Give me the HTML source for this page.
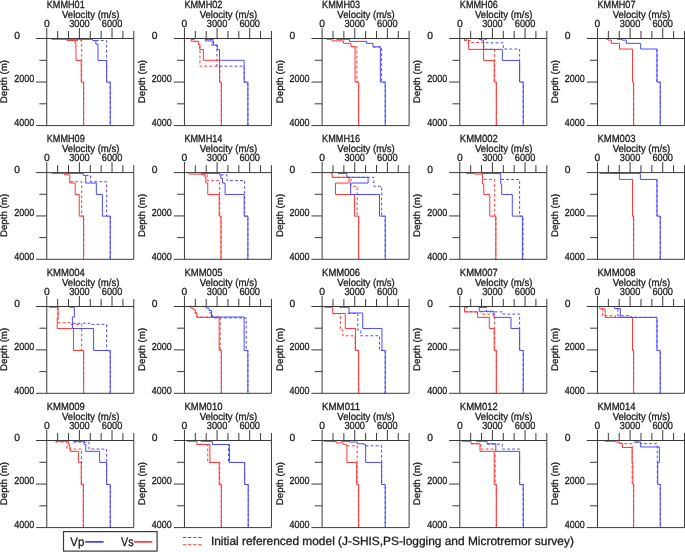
<!DOCTYPE html>
<html><head><meta charset="utf-8"><style>
html,body{margin:0;padding:0;background:#fff;width:685px;height:552px;overflow:hidden}
svg{display:block;will-change:transform}
text{text-rendering:geometricPrecision;font-family:"Liberation Sans",sans-serif;fill:#1a1a1a;stroke:#1a1a1a;stroke-width:0.3px}
</style></head><body>
<svg width="685" height="552" viewBox="0 0 685 552">
<path d="M75.16,40.4 L81.68,40.4 L81.68,82.14 L83.64,82.14 L83.64,125.6" stroke="#ff3535" stroke-width="1.0" fill="none" stroke-dasharray="2.8,2.2"/>
<path d="M95.87,40.57 L106.63,40.57 L106.63,82.14 L110.22,82.14 L110.22,125.6" stroke="#4a4aff" stroke-width="1.0" fill="none" stroke-dasharray="2.8,2.2"/>
<path d="M51.52,39.3 L67.01,39.3 L67.01,40.57 L75.16,40.57 L75.16,43.34 L75.98,43.34 L75.98,60.46 L81.2,60.46 L81.2,82.14 L83.64,82.14 L83.64,125.6" stroke="#ff3535" stroke-width="1.0" fill="none"/>
<path d="M67.01,39.3 L92.61,39.3 L92.61,40.57 L95.87,40.57 L95.87,44.15 L97.99,44.15 L97.99,60.46 L106.63,60.46 L106.63,82.14 L110.22,82.14 L110.22,125.6" stroke="#4a4aff" stroke-width="1.0" fill="none"/>
<path d="M36.07,38.5H133.77M36.07,125.6H133.77M46.77,28V125.6M133.77,31V125.6M57.65,31V38.5M68.52,31V38.5M79.4,28V38.5M90.27,31V38.5M101.15,31V38.5M112.02,28V38.5M122.9,31V38.5M39.37,60.27H46.77M36.07,82.05H46.77M39.37,103.82H46.77" stroke="#3a3a3a" stroke-width="1" fill="none"/>
<text x="46.77" y="7.6" font-size="10.4" textLength="38" lengthAdjust="spacingAndGlyphs">KMMH01</text>
<text x="61.97" y="18.1" font-size="10.3" textLength="57.5" lengthAdjust="spacingAndGlyphs">Velocity (m/s)</text>
<text x="46.77" y="27" font-size="10.3" text-anchor="middle">0</text>
<text x="79.4" y="27" font-size="10.3" text-anchor="middle" textLength="20.5" lengthAdjust="spacingAndGlyphs">3000</text>
<text x="112.02" y="27" font-size="10.3" text-anchor="middle" textLength="20.5" lengthAdjust="spacingAndGlyphs">6000</text>
<text x="14.17" y="38.7" font-size="10.3">0</text>
<text x="14.17" y="82.25" font-size="10.3" textLength="20" lengthAdjust="spacingAndGlyphs">2000</text>
<text x="14.17" y="125.8" font-size="10.3" textLength="20" lengthAdjust="spacingAndGlyphs">4000</text>
<text x="7.27" y="81.55" font-size="9.6" text-anchor="middle" transform="rotate(-90 7.27 81.55)" textLength="43.2" lengthAdjust="spacingAndGlyphs">Depth (m)</text>
<path d="M191.15,39.3 L194.74,39.3 L194.74,41.54 L198.49,41.54 L198.49,44.48 L199.96,44.48 L199.96,66.16 L219.85,66.16 L219.85,82.14 L221.32,82.14 L221.32,125.6" stroke="#ff3535" stroke-width="1.0" fill="none" stroke-dasharray="2.8,2.2"/>
<path d="M205.34,39.3 L213.49,39.3 L213.49,42.52 L211.53,42.52 L211.53,45.13 L216.91,45.13 L216.91,66.16 L244.14,66.16 L244.14,82.14 L247.89,82.14 L247.89,125.6" stroke="#4a4aff" stroke-width="1.0" fill="none" stroke-dasharray="2.8,2.2"/>
<path d="M194.74,39.3 L191.15,39.3 L191.15,41.22 L198.49,41.22 L198.49,44.48 L199.79,44.48 L199.79,49.53 L203.38,49.53 L203.38,60.29 L219.52,60.29 L219.52,82.14 L221.32,82.14 L221.32,125.6" stroke="#ff3535" stroke-width="1.0" fill="none"/>
<path d="M213.82,39.3 L205.34,39.3 L205.34,40.89 L213.49,40.89 L213.49,45.13 L217.24,45.13 L217.24,49.53 L219.52,49.53 L219.52,60.29 L244.14,60.29 L244.14,82.14 L247.89,82.14 L247.89,125.6" stroke="#4a4aff" stroke-width="1.0" fill="none"/>
<path d="M173.75,38.5H271.45M173.75,125.6H271.45M184.45,28V125.6M271.45,31V125.6M195.32,31V38.5M206.2,31V38.5M217.07,28V38.5M227.95,31V38.5M238.82,31V38.5M249.7,28V38.5M260.57,31V38.5M177.05,60.27H184.45M173.75,82.05H184.45M177.05,103.82H184.45" stroke="#3a3a3a" stroke-width="1" fill="none"/>
<text x="184.45" y="7.6" font-size="10.4" textLength="38" lengthAdjust="spacingAndGlyphs">KMMH02</text>
<text x="199.65" y="18.1" font-size="10.3" textLength="57.5" lengthAdjust="spacingAndGlyphs">Velocity (m/s)</text>
<text x="184.45" y="27" font-size="10.3" text-anchor="middle">0</text>
<text x="217.07" y="27" font-size="10.3" text-anchor="middle" textLength="20.5" lengthAdjust="spacingAndGlyphs">3000</text>
<text x="249.7" y="27" font-size="10.3" text-anchor="middle" textLength="20.5" lengthAdjust="spacingAndGlyphs">6000</text>
<text x="151.85" y="38.7" font-size="10.3">0</text>
<text x="151.85" y="82.25" font-size="10.3" textLength="20" lengthAdjust="spacingAndGlyphs">2000</text>
<text x="151.85" y="125.8" font-size="10.3" textLength="20" lengthAdjust="spacingAndGlyphs">4000</text>
<text x="144.95" y="81.55" font-size="9.6" text-anchor="middle" transform="rotate(-90 144.95 81.55)" textLength="43.2" lengthAdjust="spacingAndGlyphs">Depth (m)</text>
<path d="M350.98,46.6 L356.85,46.6 L356.85,82.14 L358.64,82.14 L358.64,125.6" stroke="#ff3535" stroke-width="1.0" fill="none" stroke-dasharray="2.8,2.2"/>
<path d="M372.99,46.92 L381.63,46.92 L381.63,82.14 L385.22,82.14 L385.22,125.6" stroke="#4a4aff" stroke-width="1.0" fill="none" stroke-dasharray="2.8,2.2"/>
<path d="M326.52,39.3 L332.23,39.3 L332.23,40.89 L343.64,40.89 L343.64,43.34 L350.98,43.34 L350.98,46.6 L355.05,46.6 L355.05,82.14 L358.64,82.14 L358.64,125.6" stroke="#ff3535" stroke-width="1.0" fill="none"/>
<path d="M336.3,39.3 L349.35,39.3 L349.35,41.38 L366.47,41.38 L366.47,43.34 L372.99,43.34 L372.99,46.92 L380.33,46.92 L380.33,82.14 L385.22,82.14 L385.22,125.6" stroke="#4a4aff" stroke-width="1.0" fill="none"/>
<path d="M311.42,38.5H409.12M311.42,125.6H409.12M322.12,28V125.6M409.12,31V125.6M333,31V38.5M343.87,31V38.5M354.75,28V38.5M365.62,31V38.5M376.5,31V38.5M387.37,28V38.5M398.25,31V38.5M314.72,60.27H322.12M311.42,82.05H322.12M314.72,103.82H322.12" stroke="#3a3a3a" stroke-width="1" fill="none"/>
<text x="322.12" y="7.6" font-size="10.4" textLength="38" lengthAdjust="spacingAndGlyphs">KMMH03</text>
<text x="337.32" y="18.1" font-size="10.3" textLength="57.5" lengthAdjust="spacingAndGlyphs">Velocity (m/s)</text>
<text x="322.12" y="27" font-size="10.3" text-anchor="middle">0</text>
<text x="354.75" y="27" font-size="10.3" text-anchor="middle" textLength="20.5" lengthAdjust="spacingAndGlyphs">3000</text>
<text x="387.37" y="27" font-size="10.3" text-anchor="middle" textLength="20.5" lengthAdjust="spacingAndGlyphs">6000</text>
<text x="289.52" y="38.7" font-size="10.3">0</text>
<text x="289.52" y="82.25" font-size="10.3" textLength="20" lengthAdjust="spacingAndGlyphs">2000</text>
<text x="289.52" y="125.8" font-size="10.3" textLength="20" lengthAdjust="spacingAndGlyphs">4000</text>
<text x="282.62" y="81.55" font-size="9.6" text-anchor="middle" transform="rotate(-90 282.62 81.55)" textLength="43.2" lengthAdjust="spacingAndGlyphs">Depth (m)</text>
<path d="M464.52,39.3 L464.52,40.57 L470.23,40.57 L470.23,42.52 L483.6,42.52 L483.6,49.37 L494.68,49.37 L494.68,82.14 L496.32,82.14 L496.32,125.6" stroke="#ff3535" stroke-width="1.0" fill="none" stroke-dasharray="2.8,2.2"/>
<path d="M479.2,39.3 L486.53,39.3 L486.53,42.85 L503.33,42.85 L503.33,49.04 L519.63,49.04 L519.63,82.14 L523.22,82.14 L523.22,125.6" stroke="#4a4aff" stroke-width="1.0" fill="none" stroke-dasharray="2.8,2.2"/>
<path d="M464.52,39.3 L464.52,40.08 L468.6,40.08 L468.6,49.37 L483.6,49.37 L483.6,60.46 L494.2,60.46 L494.2,82.14 L496.32,82.14 L496.32,125.6" stroke="#ff3535" stroke-width="1.0" fill="none"/>
<path d="M479.2,39.3 L480.83,39.3 L480.83,40.08 L483.6,40.08 L483.6,49.37 L502.35,49.37 L502.35,60.46 L519.63,60.46 L519.63,82.14 L523.22,82.14 L523.22,125.6" stroke="#4a4aff" stroke-width="1.0" fill="none"/>
<path d="M449.1,38.5H546.8M449.1,125.6H546.8M459.8,28V125.6M546.8,31V125.6M470.67,31V38.5M481.55,31V38.5M492.42,28V38.5M503.3,31V38.5M514.17,31V38.5M525.05,28V38.5M535.92,31V38.5M452.4,60.27H459.8M449.1,82.05H459.8M452.4,103.82H459.8" stroke="#3a3a3a" stroke-width="1" fill="none"/>
<text x="459.8" y="7.6" font-size="10.4" textLength="38" lengthAdjust="spacingAndGlyphs">KMMH06</text>
<text x="475" y="18.1" font-size="10.3" textLength="57.5" lengthAdjust="spacingAndGlyphs">Velocity (m/s)</text>
<text x="459.8" y="27" font-size="10.3" text-anchor="middle">0</text>
<text x="492.42" y="27" font-size="10.3" text-anchor="middle" textLength="20.5" lengthAdjust="spacingAndGlyphs">3000</text>
<text x="525.05" y="27" font-size="10.3" text-anchor="middle" textLength="20.5" lengthAdjust="spacingAndGlyphs">6000</text>
<text x="427.19" y="38.7" font-size="10.3">0</text>
<text x="427.19" y="82.25" font-size="10.3" textLength="20" lengthAdjust="spacingAndGlyphs">2000</text>
<text x="427.19" y="125.8" font-size="10.3" textLength="20" lengthAdjust="spacingAndGlyphs">4000</text>
<text x="420.3" y="81.55" font-size="9.6" text-anchor="middle" transform="rotate(-90 420.3 81.55)" textLength="43.2" lengthAdjust="spacingAndGlyphs">Depth (m)</text>
<path d="M632.5,49.04 L632.5,82.14 L633.64,82.14 L633.64,125.6" stroke="#ff3535" stroke-width="1.0" fill="none" stroke-dasharray="2.8,2.2"/>
<path d="M656.96,49.04 L656.96,82.14 L660.22,82.14 L660.22,125.6" stroke="#4a4aff" stroke-width="1.0" fill="none" stroke-dasharray="2.8,2.2"/>
<path d="M606.41,39.3 L608.04,39.3 L608.04,40.08 L611.3,40.08 L611.3,43.34 L619.46,43.34 L619.46,49.04 L632.5,49.04 L632.5,82.14 L633.64,82.14 L633.64,125.6" stroke="#ff3535" stroke-width="1.0" fill="none"/>
<path d="M617.01,39.3 L621.9,39.3 L621.9,40.08 L626.3,40.08 L626.3,43.34 L640.65,43.34 L640.65,49.04 L656.96,49.04 L656.96,82.14 L660.22,82.14 L660.22,125.6" stroke="#4a4aff" stroke-width="1.0" fill="none"/>
<path d="M586.77,38.5H684.47M586.77,125.6H684.47M597.47,28V125.6M684.47,31V125.6M608.35,31V38.5M619.22,31V38.5M630.1,28V38.5M640.97,31V38.5M651.85,31V38.5M662.72,28V38.5M673.6,31V38.5M590.07,60.27H597.47M586.77,82.05H597.47M590.07,103.82H597.47" stroke="#3a3a3a" stroke-width="1" fill="none"/>
<text x="597.47" y="7.6" font-size="10.4" textLength="38" lengthAdjust="spacingAndGlyphs">KMMH07</text>
<text x="612.67" y="18.1" font-size="10.3" textLength="57.5" lengthAdjust="spacingAndGlyphs">Velocity (m/s)</text>
<text x="597.47" y="27" font-size="10.3" text-anchor="middle">0</text>
<text x="630.1" y="27" font-size="10.3" text-anchor="middle" textLength="20.5" lengthAdjust="spacingAndGlyphs">3000</text>
<text x="662.72" y="27" font-size="10.3" text-anchor="middle" textLength="20.5" lengthAdjust="spacingAndGlyphs">6000</text>
<text x="564.87" y="38.7" font-size="10.3">0</text>
<text x="564.87" y="82.25" font-size="10.3" textLength="20" lengthAdjust="spacingAndGlyphs">2000</text>
<text x="564.87" y="125.8" font-size="10.3" textLength="20" lengthAdjust="spacingAndGlyphs">4000</text>
<text x="557.97" y="81.55" font-size="9.6" text-anchor="middle" transform="rotate(-90 557.97 81.55)" textLength="43.2" lengthAdjust="spacingAndGlyphs">Depth (m)</text>
<path d="M70.27,181.74 L81.68,181.74 L81.68,216.14 L83.64,216.14 L83.64,259.3" stroke="#ff3535" stroke-width="1.0" fill="none" stroke-dasharray="2.8,2.2"/>
<path d="M85.76,175.38 L90.65,175.38 L90.65,181.74 L106.63,181.74 L106.63,216.14 L110.22,216.14 L110.22,259.3" stroke="#4a4aff" stroke-width="1.0" fill="none" stroke-dasharray="2.8,2.2"/>
<path d="M51.52,173.4 L64.57,173.4 L64.57,174.89 L69.78,174.89 L69.78,183.04 L75.16,183.04 L75.16,194.46 L79.24,194.46 L79.24,216.14 L83.64,216.14 L83.64,259.3" stroke="#ff3535" stroke-width="1.0" fill="none"/>
<path d="M64.57,173.4 L83.32,173.4 L83.32,175.38 L85.76,175.38 L85.76,183.04 L96.36,183.04 L96.36,194.46 L102.39,194.46 L102.39,216.14 L110.22,216.14 L110.22,259.3" stroke="#4a4aff" stroke-width="1.0" fill="none"/>
<path d="M36.07,172.6H133.77M36.07,259.3H133.77M46.77,162.1V259.3M133.77,165.1V259.3M57.65,165.1V172.6M68.52,165.1V172.6M79.4,162.1V172.6M90.27,165.1V172.6M101.15,165.1V172.6M112.02,162.1V172.6M122.9,165.1V172.6M39.37,194.28H46.77M36.07,215.95H46.77M39.37,237.62H46.77" stroke="#3a3a3a" stroke-width="1" fill="none"/>
<text x="46.77" y="141.7" font-size="10.4" textLength="38" lengthAdjust="spacingAndGlyphs">KMMH09</text>
<text x="61.97" y="152.2" font-size="10.3" textLength="57.5" lengthAdjust="spacingAndGlyphs">Velocity (m/s)</text>
<text x="46.77" y="161.1" font-size="10.3" text-anchor="middle">0</text>
<text x="79.4" y="161.1" font-size="10.3" text-anchor="middle" textLength="20.5" lengthAdjust="spacingAndGlyphs">3000</text>
<text x="112.02" y="161.1" font-size="10.3" text-anchor="middle" textLength="20.5" lengthAdjust="spacingAndGlyphs">6000</text>
<text x="14.17" y="172.8" font-size="10.3">0</text>
<text x="14.17" y="216.15" font-size="10.3" textLength="20" lengthAdjust="spacingAndGlyphs">2000</text>
<text x="14.17" y="259.5" font-size="10.3" textLength="20" lengthAdjust="spacingAndGlyphs">4000</text>
<text x="7.27" y="215.45" font-size="9.6" text-anchor="middle" transform="rotate(-90 7.27 215.45)" textLength="43.2" lengthAdjust="spacingAndGlyphs">Depth (m)</text>
<path d="M202.57,174.08 L207.13,174.08 L207.13,180.6 L219.68,180.6 L219.68,216.14 L220.99,216.14 L220.99,259.3" stroke="#ff3535" stroke-width="1.0" fill="none" stroke-dasharray="2.8,2.2"/>
<path d="M220.83,174.89 L227.02,174.89 L227.02,180.6 L244.63,180.6 L244.63,216.14 L247.89,216.14 L247.89,259.3" stroke="#4a4aff" stroke-width="1.0" fill="none" stroke-dasharray="2.8,2.2"/>
<path d="M188.71,173.4 L188.71,174.08 L201.75,174.08 L201.75,174.89 L205.01,174.89 L205.01,177.34 L205.83,177.34 L205.83,183.04 L207.78,183.04 L207.78,194.46 L219.2,194.46 L219.2,216.14 L220.99,216.14 L220.99,259.3" stroke="#ff3535" stroke-width="1.0" fill="none"/>
<path d="M200.93,173.4 L219.68,173.4 L219.68,174.89 L220.83,174.89 L220.83,178.15 L222.46,178.15 L222.46,183.04 L225.07,183.04 L225.07,194.46 L244.14,194.46 L244.14,216.14 L247.89,216.14 L247.89,259.3" stroke="#4a4aff" stroke-width="1.0" fill="none"/>
<path d="M173.75,172.6H271.45M173.75,259.3H271.45M184.45,162.1V259.3M271.45,165.1V259.3M195.32,165.1V172.6M206.2,165.1V172.6M217.07,162.1V172.6M227.95,165.1V172.6M238.82,165.1V172.6M249.7,162.1V172.6M260.57,165.1V172.6M177.05,194.28H184.45M173.75,215.95H184.45M177.05,237.62H184.45" stroke="#3a3a3a" stroke-width="1" fill="none"/>
<text x="184.45" y="141.7" font-size="10.4" textLength="38" lengthAdjust="spacingAndGlyphs">KMMH14</text>
<text x="199.65" y="152.2" font-size="10.3" textLength="57.5" lengthAdjust="spacingAndGlyphs">Velocity (m/s)</text>
<text x="184.45" y="161.1" font-size="10.3" text-anchor="middle">0</text>
<text x="217.07" y="161.1" font-size="10.3" text-anchor="middle" textLength="20.5" lengthAdjust="spacingAndGlyphs">3000</text>
<text x="249.7" y="161.1" font-size="10.3" text-anchor="middle" textLength="20.5" lengthAdjust="spacingAndGlyphs">6000</text>
<text x="151.85" y="172.8" font-size="10.3">0</text>
<text x="151.85" y="216.15" font-size="10.3" textLength="20" lengthAdjust="spacingAndGlyphs">2000</text>
<text x="151.85" y="259.5" font-size="10.3" textLength="20" lengthAdjust="spacingAndGlyphs">4000</text>
<text x="144.95" y="215.45" font-size="9.6" text-anchor="middle" transform="rotate(-90 144.95 215.45)" textLength="43.2" lengthAdjust="spacingAndGlyphs">Depth (m)</text>
<path d="M332.23,177.34 L350.98,177.34 L350.98,186.3 L357.17,186.3 L357.17,216.14 L358.64,216.14 L358.64,259.3" stroke="#ff3535" stroke-width="1.0" fill="none" stroke-dasharray="2.8,2.2"/>
<path d="M346.9,177.34 L373.8,177.34 L373.8,186.3 L381.63,186.3 L381.63,216.14 L385.22,216.14 L385.22,259.3" stroke="#4a4aff" stroke-width="1.0" fill="none" stroke-dasharray="2.8,2.2"/>
<path d="M330.6,173.4 L332.23,173.4 L332.23,177.34 L349.02,177.34 L349.02,183.04 L335.49,183.04 L335.49,194.46 L354.57,194.46 L354.57,216.14 L358.64,216.14 L358.64,259.3" stroke="#ff3535" stroke-width="1.0" fill="none"/>
<path d="M337.93,173.4 L346.9,173.4 L346.9,177.34 L368.1,177.34 L368.1,183.04 L350.65,183.04 L350.65,194.46 L379.51,194.46 L379.51,216.14 L385.22,216.14 L385.22,259.3" stroke="#4a4aff" stroke-width="1.0" fill="none"/>
<path d="M311.42,172.6H409.12M311.42,259.3H409.12M322.12,162.1V259.3M409.12,165.1V259.3M333,165.1V172.6M343.87,165.1V172.6M354.75,162.1V172.6M365.62,165.1V172.6M376.5,165.1V172.6M387.37,162.1V172.6M398.25,165.1V172.6M314.72,194.28H322.12M311.42,215.95H322.12M314.72,237.62H322.12" stroke="#3a3a3a" stroke-width="1" fill="none"/>
<text x="322.12" y="141.7" font-size="10.4" textLength="38" lengthAdjust="spacingAndGlyphs">KMMH16</text>
<text x="337.32" y="152.2" font-size="10.3" textLength="57.5" lengthAdjust="spacingAndGlyphs">Velocity (m/s)</text>
<text x="322.12" y="161.1" font-size="10.3" text-anchor="middle">0</text>
<text x="354.75" y="161.1" font-size="10.3" text-anchor="middle" textLength="20.5" lengthAdjust="spacingAndGlyphs">3000</text>
<text x="387.37" y="161.1" font-size="10.3" text-anchor="middle" textLength="20.5" lengthAdjust="spacingAndGlyphs">6000</text>
<text x="289.52" y="172.8" font-size="10.3">0</text>
<text x="289.52" y="216.15" font-size="10.3" textLength="20" lengthAdjust="spacingAndGlyphs">2000</text>
<text x="289.52" y="259.5" font-size="10.3" textLength="20" lengthAdjust="spacingAndGlyphs">4000</text>
<text x="282.62" y="215.45" font-size="9.6" text-anchor="middle" transform="rotate(-90 282.62 215.45)" textLength="43.2" lengthAdjust="spacingAndGlyphs">Depth (m)</text>
<path d="M484.09,179.46 L494.68,179.46 L494.68,216.14 L495.83,216.14 L495.83,259.3" stroke="#ff3535" stroke-width="1.0" fill="none" stroke-dasharray="2.8,2.2"/>
<path d="M501.21,179.46 L519.63,179.46 L519.63,216.14 L523.05,216.14 L523.05,259.3" stroke="#4a4aff" stroke-width="1.0" fill="none" stroke-dasharray="2.8,2.2"/>
<path d="M466.15,173.4 L474.3,173.4 L474.3,174.08 L482.46,174.08 L482.46,183.86 L483.76,183.86 L483.76,194.46 L489.79,194.46 L489.79,216.14 L495.83,216.14 L495.83,259.3" stroke="#ff3535" stroke-width="1.0" fill="none"/>
<path d="M481.64,173.4 L500.39,173.4 L500.39,174.89 L500.72,174.89 L500.72,183.86 L501.7,183.86 L501.7,194.46 L512.29,194.46 L512.29,216.14 L522.4,216.14 L522.4,259.3" stroke="#4a4aff" stroke-width="1.0" fill="none"/>
<path d="M449.1,172.6H546.8M449.1,259.3H546.8M459.8,162.1V259.3M546.8,165.1V259.3M470.67,165.1V172.6M481.55,165.1V172.6M492.42,162.1V172.6M503.3,165.1V172.6M514.17,165.1V172.6M525.05,162.1V172.6M535.92,165.1V172.6M452.4,194.28H459.8M449.1,215.95H459.8M452.4,237.62H459.8" stroke="#3a3a3a" stroke-width="1" fill="none"/>
<text x="459.8" y="141.7" font-size="10.4" textLength="38" lengthAdjust="spacingAndGlyphs">KMM002</text>
<text x="475" y="152.2" font-size="10.3" textLength="57.5" lengthAdjust="spacingAndGlyphs">Velocity (m/s)</text>
<text x="459.8" y="161.1" font-size="10.3" text-anchor="middle">0</text>
<text x="492.42" y="161.1" font-size="10.3" text-anchor="middle" textLength="20.5" lengthAdjust="spacingAndGlyphs">3000</text>
<text x="525.05" y="161.1" font-size="10.3" text-anchor="middle" textLength="20.5" lengthAdjust="spacingAndGlyphs">6000</text>
<text x="427.19" y="172.8" font-size="10.3">0</text>
<text x="427.19" y="216.15" font-size="10.3" textLength="20" lengthAdjust="spacingAndGlyphs">2000</text>
<text x="427.19" y="259.5" font-size="10.3" textLength="20" lengthAdjust="spacingAndGlyphs">4000</text>
<text x="420.3" y="215.45" font-size="9.6" text-anchor="middle" transform="rotate(-90 420.3 215.45)" textLength="43.2" lengthAdjust="spacingAndGlyphs">Depth (m)</text>
<path d="M632.5,179.46 L632.5,216.14 L633.64,216.14 L633.64,259.3" stroke="#ff3535" stroke-width="1.0" fill="none" stroke-dasharray="2.8,2.2"/>
<path d="M656.96,179.46 L656.96,216.14 L660.22,216.14 L660.22,259.3" stroke="#4a4aff" stroke-width="1.0" fill="none" stroke-dasharray="2.8,2.2"/>
<path d="M599.89,173.4 L619.46,173.4 L619.46,179.46 L632.5,179.46 L632.5,216.14 L633.64,216.14 L633.64,259.3" stroke="#ff3535" stroke-width="1.0" fill="none"/>
<path d="M611.3,173.4 L640.33,173.4 L640.33,179.46 L656.96,179.46 L656.96,216.14 L660.22,216.14 L660.22,259.3" stroke="#4a4aff" stroke-width="1.0" fill="none"/>
<path d="M586.77,172.6H684.47M586.77,259.3H684.47M597.47,162.1V259.3M684.47,165.1V259.3M608.35,165.1V172.6M619.22,165.1V172.6M630.1,162.1V172.6M640.97,165.1V172.6M651.85,165.1V172.6M662.72,162.1V172.6M673.6,165.1V172.6M590.07,194.28H597.47M586.77,215.95H597.47M590.07,237.62H597.47" stroke="#3a3a3a" stroke-width="1" fill="none"/>
<text x="597.47" y="141.7" font-size="10.4" textLength="38" lengthAdjust="spacingAndGlyphs">KMM003</text>
<text x="612.67" y="152.2" font-size="10.3" textLength="57.5" lengthAdjust="spacingAndGlyphs">Velocity (m/s)</text>
<text x="597.47" y="161.1" font-size="10.3" text-anchor="middle">0</text>
<text x="630.1" y="161.1" font-size="10.3" text-anchor="middle" textLength="20.5" lengthAdjust="spacingAndGlyphs">3000</text>
<text x="662.72" y="161.1" font-size="10.3" text-anchor="middle" textLength="20.5" lengthAdjust="spacingAndGlyphs">6000</text>
<text x="564.87" y="172.8" font-size="10.3">0</text>
<text x="564.87" y="216.15" font-size="10.3" textLength="20" lengthAdjust="spacingAndGlyphs">2000</text>
<text x="564.87" y="259.5" font-size="10.3" textLength="20" lengthAdjust="spacingAndGlyphs">4000</text>
<text x="557.97" y="215.45" font-size="9.6" text-anchor="middle" transform="rotate(-90 557.97 215.45)" textLength="43.2" lengthAdjust="spacingAndGlyphs">Depth (m)</text>
<path d="M58.04,307.3 L58.04,322.75 L70.27,322.75 L70.27,324.38 L81.68,324.38 L81.68,350.47 L83.64,350.47 L83.64,393.3" stroke="#ff3535" stroke-width="1.0" fill="none" stroke-dasharray="2.8,2.2"/>
<path d="M72.72,323.24 L90.65,323.24 L90.65,324.38 L106.63,324.38 L106.63,350.47 L110.22,350.47 L110.22,393.3" stroke="#4a4aff" stroke-width="1.0" fill="none" stroke-dasharray="2.8,2.2"/>
<path d="M49.08,307.3 L58.04,307.3 L58.04,317.86 L57.23,317.86 L57.23,328.46 L73.53,328.46 L73.53,350.47 L83.64,350.47 L83.64,393.3" stroke="#ff3535" stroke-width="1.0" fill="none"/>
<path d="M69.46,307.3 L74.35,307.3 L74.35,317.04 L72.39,317.04 L72.39,328.46 L93.59,328.46 L93.59,350.47 L110.22,350.47 L110.22,393.3" stroke="#4a4aff" stroke-width="1.0" fill="none"/>
<path d="M36.07,306.5H133.77M36.07,393.3H133.77M46.77,296V393.3M133.77,299V393.3M57.65,299V306.5M68.52,299V306.5M79.4,296V306.5M90.27,299V306.5M101.15,299V306.5M112.02,296V306.5M122.9,299V306.5M39.37,328.2H46.77M36.07,349.9H46.77M39.37,371.6H46.77" stroke="#3a3a3a" stroke-width="1" fill="none"/>
<text x="46.77" y="275.6" font-size="10.4" textLength="38" lengthAdjust="spacingAndGlyphs">KMM004</text>
<text x="61.97" y="286.1" font-size="10.3" textLength="57.5" lengthAdjust="spacingAndGlyphs">Velocity (m/s)</text>
<text x="46.77" y="295" font-size="10.3" text-anchor="middle">0</text>
<text x="79.4" y="295" font-size="10.3" text-anchor="middle" textLength="20.5" lengthAdjust="spacingAndGlyphs">3000</text>
<text x="112.02" y="295" font-size="10.3" text-anchor="middle" textLength="20.5" lengthAdjust="spacingAndGlyphs">6000</text>
<text x="14.17" y="306.7" font-size="10.3">0</text>
<text x="14.17" y="350.1" font-size="10.3" textLength="20" lengthAdjust="spacingAndGlyphs">2000</text>
<text x="14.17" y="393.5" font-size="10.3" textLength="20" lengthAdjust="spacingAndGlyphs">4000</text>
<text x="7.27" y="349.4" font-size="9.6" text-anchor="middle" transform="rotate(-90 7.27 349.4)" textLength="43.2" lengthAdjust="spacingAndGlyphs">Depth (m)</text>
<path d="M194.41,312.97 L196.86,312.97 L196.86,317.04 L220.17,317.04 L220.17,350.47 L221.32,350.47 L221.32,393.3" stroke="#ff3535" stroke-width="1.0" fill="none" stroke-dasharray="2.8,2.2"/>
<path d="M209.09,312.97 L212.35,312.97 L212.35,317.86 L246.26,317.86 L246.26,350.47 L247.89,350.47 L247.89,393.3" stroke="#4a4aff" stroke-width="1.0" fill="none" stroke-dasharray="2.8,2.2"/>
<path d="M190.34,307.3 L190.34,308.08 L193.6,308.08 L193.6,309.71 L195.23,309.71 L195.23,312.97 L196.86,312.97 L196.86,317.37 L219.2,317.37 L219.2,350.47 L221.32,350.47 L221.32,393.3" stroke="#ff3535" stroke-width="1.0" fill="none"/>
<path d="M205.83,307.3 L205.83,308.08 L209.09,308.08 L209.09,310.52 L211.53,310.52 L211.53,317.04 L244.14,317.04 L244.14,350.47 L247.89,350.47 L247.89,393.3" stroke="#4a4aff" stroke-width="1.0" fill="none"/>
<path d="M173.75,306.5H271.45M173.75,393.3H271.45M184.45,296V393.3M271.45,299V393.3M195.32,299V306.5M206.2,299V306.5M217.07,296V306.5M227.95,299V306.5M238.82,299V306.5M249.7,296V306.5M260.57,299V306.5M177.05,328.2H184.45M173.75,349.9H184.45M177.05,371.6H184.45" stroke="#3a3a3a" stroke-width="1" fill="none"/>
<text x="184.45" y="275.6" font-size="10.4" textLength="38" lengthAdjust="spacingAndGlyphs">KMM005</text>
<text x="199.65" y="286.1" font-size="10.3" textLength="57.5" lengthAdjust="spacingAndGlyphs">Velocity (m/s)</text>
<text x="184.45" y="295" font-size="10.3" text-anchor="middle">0</text>
<text x="217.07" y="295" font-size="10.3" text-anchor="middle" textLength="20.5" lengthAdjust="spacingAndGlyphs">3000</text>
<text x="249.7" y="295" font-size="10.3" text-anchor="middle" textLength="20.5" lengthAdjust="spacingAndGlyphs">6000</text>
<text x="151.85" y="306.7" font-size="10.3">0</text>
<text x="151.85" y="350.1" font-size="10.3" textLength="20" lengthAdjust="spacingAndGlyphs">2000</text>
<text x="151.85" y="393.5" font-size="10.3" textLength="20" lengthAdjust="spacingAndGlyphs">4000</text>
<text x="144.95" y="349.4" font-size="9.6" text-anchor="middle" transform="rotate(-90 144.95 349.4)" textLength="43.2" lengthAdjust="spacingAndGlyphs">Depth (m)</text>
<path d="M332.72,313.78 L340.38,313.78 L340.38,330.09 L342.83,330.09 L342.83,335.79 L355.05,335.79 L355.05,350.47 L358.64,350.47 L358.64,393.3" stroke="#ff3535" stroke-width="1.0" fill="none" stroke-dasharray="2.8,2.2"/>
<path d="M347.72,313.46 L357.83,313.46 L357.83,330.09 L360.76,330.09 L360.76,335.79 L379.51,335.79 L379.51,350.47 L385.22,350.47 L385.22,393.3" stroke="#4a4aff" stroke-width="1.0" fill="none" stroke-dasharray="2.8,2.2"/>
<path d="M324.89,307.3 L332.72,307.3 L332.72,313.46 L345.27,313.46 L345.27,328.46 L355.54,328.46 L355.54,350.47 L358.64,350.47 L358.64,393.3" stroke="#ff3535" stroke-width="1.0" fill="none"/>
<path d="M339.57,307.3 L349.02,307.3 L349.02,312.97 L362.72,312.97 L362.72,328.46 L381.96,328.46 L381.96,350.47 L385.22,350.47 L385.22,393.3" stroke="#4a4aff" stroke-width="1.0" fill="none"/>
<path d="M311.42,306.5H409.12M311.42,393.3H409.12M322.12,296V393.3M409.12,299V393.3M333,299V306.5M343.87,299V306.5M354.75,296V306.5M365.62,299V306.5M376.5,299V306.5M387.37,296V306.5M398.25,299V306.5M314.72,328.2H322.12M311.42,349.9H322.12M314.72,371.6H322.12" stroke="#3a3a3a" stroke-width="1" fill="none"/>
<text x="322.12" y="275.6" font-size="10.4" textLength="38" lengthAdjust="spacingAndGlyphs">KMM006</text>
<text x="337.32" y="286.1" font-size="10.3" textLength="57.5" lengthAdjust="spacingAndGlyphs">Velocity (m/s)</text>
<text x="322.12" y="295" font-size="10.3" text-anchor="middle">0</text>
<text x="354.75" y="295" font-size="10.3" text-anchor="middle" textLength="20.5" lengthAdjust="spacingAndGlyphs">3000</text>
<text x="387.37" y="295" font-size="10.3" text-anchor="middle" textLength="20.5" lengthAdjust="spacingAndGlyphs">6000</text>
<text x="289.52" y="306.7" font-size="10.3">0</text>
<text x="289.52" y="350.1" font-size="10.3" textLength="20" lengthAdjust="spacingAndGlyphs">2000</text>
<text x="289.52" y="393.5" font-size="10.3" textLength="20" lengthAdjust="spacingAndGlyphs">4000</text>
<text x="282.62" y="349.4" font-size="9.6" text-anchor="middle" transform="rotate(-90 282.62 349.4)" textLength="43.2" lengthAdjust="spacingAndGlyphs">Depth (m)</text>
<path d="M464.52,311.83 L482.46,311.83 L482.46,314.11 L494.68,314.11 L494.68,350.47 L496.32,350.47 L496.32,393.3" stroke="#ff3535" stroke-width="1.0" fill="none" stroke-dasharray="2.8,2.2"/>
<path d="M479.2,307.3 L486.53,307.3 L486.53,311.83 L502.84,311.83 L502.84,314.11 L519.63,314.11 L519.63,350.47 L523.22,350.47 L523.22,393.3" stroke="#4a4aff" stroke-width="1.0" fill="none" stroke-dasharray="2.8,2.2"/>
<path d="M467.78,307.59 L464.52,307.59 L464.52,311.83 L477.57,311.83 L477.57,317.37 L489.3,317.37 L489.3,328.46 L494.2,328.46 L494.2,350.47 L496.32,350.47 L496.32,393.3" stroke="#ff3535" stroke-width="1.0" fill="none"/>
<path d="M486.53,307.3 L479.2,307.3 L479.2,311.34 L493.87,311.34 L493.87,317.37 L510.99,317.37 L510.99,328.46 L519.63,328.46 L519.63,350.47 L523.22,350.47 L523.22,393.3" stroke="#4a4aff" stroke-width="1.0" fill="none"/>
<path d="M449.1,306.5H546.8M449.1,393.3H546.8M459.8,296V393.3M546.8,299V393.3M470.67,299V306.5M481.55,299V306.5M492.42,296V306.5M503.3,299V306.5M514.17,299V306.5M525.05,296V306.5M535.92,299V306.5M452.4,328.2H459.8M449.1,349.9H459.8M452.4,371.6H459.8" stroke="#3a3a3a" stroke-width="1" fill="none"/>
<text x="459.8" y="275.6" font-size="10.4" textLength="38" lengthAdjust="spacingAndGlyphs">KMM007</text>
<text x="475" y="286.1" font-size="10.3" textLength="57.5" lengthAdjust="spacingAndGlyphs">Velocity (m/s)</text>
<text x="459.8" y="295" font-size="10.3" text-anchor="middle">0</text>
<text x="492.42" y="295" font-size="10.3" text-anchor="middle" textLength="20.5" lengthAdjust="spacingAndGlyphs">3000</text>
<text x="525.05" y="295" font-size="10.3" text-anchor="middle" textLength="20.5" lengthAdjust="spacingAndGlyphs">6000</text>
<text x="427.19" y="306.7" font-size="10.3">0</text>
<text x="427.19" y="350.1" font-size="10.3" textLength="20" lengthAdjust="spacingAndGlyphs">2000</text>
<text x="427.19" y="393.5" font-size="10.3" textLength="20" lengthAdjust="spacingAndGlyphs">4000</text>
<text x="420.3" y="349.4" font-size="9.6" text-anchor="middle" transform="rotate(-90 420.3 349.4)" textLength="43.2" lengthAdjust="spacingAndGlyphs">Depth (m)</text>
<path d="M602.34,308.08 L602.34,315.74 L615.38,315.74 L615.38,317.37 L632.5,317.37 L632.5,350.47 L633.64,350.47 L633.64,393.3" stroke="#ff3535" stroke-width="1.0" fill="none" stroke-dasharray="2.8,2.2"/>
<path d="M617.83,308.89 L617.83,315.74 L630.87,315.74 L630.87,317.37 L656.96,317.37 L656.96,350.47 L660.22,350.47 L660.22,393.3" stroke="#4a4aff" stroke-width="1.0" fill="none" stroke-dasharray="2.8,2.2"/>
<path d="M599.89,307.3 L599.89,308.89 L605.11,308.89 L605.11,317.37 L632.5,317.37 L632.5,350.47 L633.64,350.47 L633.64,393.3" stroke="#ff3535" stroke-width="1.0" fill="none"/>
<path d="M614.57,307.3 L614.57,308.57 L620.27,308.57 L620.27,317.37 L656.96,317.37 L656.96,350.47 L660.22,350.47 L660.22,393.3" stroke="#4a4aff" stroke-width="1.0" fill="none"/>
<path d="M586.77,306.5H684.47M586.77,393.3H684.47M597.47,296V393.3M684.47,299V393.3M608.35,299V306.5M619.22,299V306.5M630.1,296V306.5M640.97,299V306.5M651.85,299V306.5M662.72,296V306.5M673.6,299V306.5M590.07,328.2H597.47M586.77,349.9H597.47M590.07,371.6H597.47" stroke="#3a3a3a" stroke-width="1" fill="none"/>
<text x="597.47" y="275.6" font-size="10.4" textLength="38" lengthAdjust="spacingAndGlyphs">KMM008</text>
<text x="612.67" y="286.1" font-size="10.3" textLength="57.5" lengthAdjust="spacingAndGlyphs">Velocity (m/s)</text>
<text x="597.47" y="295" font-size="10.3" text-anchor="middle">0</text>
<text x="630.1" y="295" font-size="10.3" text-anchor="middle" textLength="20.5" lengthAdjust="spacingAndGlyphs">3000</text>
<text x="662.72" y="295" font-size="10.3" text-anchor="middle" textLength="20.5" lengthAdjust="spacingAndGlyphs">6000</text>
<text x="564.87" y="306.7" font-size="10.3">0</text>
<text x="564.87" y="350.1" font-size="10.3" textLength="20" lengthAdjust="spacingAndGlyphs">2000</text>
<text x="564.87" y="393.5" font-size="10.3" textLength="20" lengthAdjust="spacingAndGlyphs">4000</text>
<text x="557.97" y="349.4" font-size="9.6" text-anchor="middle" transform="rotate(-90 557.97 349.4)" textLength="43.2" lengthAdjust="spacingAndGlyphs">Depth (m)</text>
<path d="M55.6,442.08 L67.01,442.08 L67.01,449.09 L81.52,449.09 L81.52,484.47 L83.32,484.47 L83.32,527.6" stroke="#ff3535" stroke-width="1.0" fill="none" stroke-dasharray="2.8,2.2"/>
<path d="M73.53,442.08 L89.02,442.08 L89.02,449.09 L106.63,449.09 L106.63,484.47 L110.22,484.47 L110.22,527.6" stroke="#4a4aff" stroke-width="1.0" fill="none" stroke-dasharray="2.8,2.2"/>
<path d="M55.6,441.3 L68.64,441.3 L68.64,444.52 L69.46,444.52 L69.46,446.97 L70.27,446.97 L70.27,451.37 L78.42,451.37 L78.42,462.46 L81.2,462.46 L81.2,484.47 L83.32,484.47 L83.32,527.6" stroke="#ff3535" stroke-width="1.0" fill="none"/>
<path d="M73.53,441.3 L84.13,441.3 L84.13,444.52 L85.76,444.52 L85.76,451.37 L99.62,451.37 L99.62,462.46 L106.63,462.46 L106.63,484.47 L110.22,484.47 L110.22,527.6" stroke="#4a4aff" stroke-width="1.0" fill="none"/>
<path d="M36.07,440.5H133.77M36.07,527.6H133.77M46.77,430V527.6M133.77,433V527.6M57.65,433V440.5M68.52,433V440.5M79.4,430V440.5M90.27,433V440.5M101.15,433V440.5M112.02,430V440.5M122.9,433V440.5M39.37,462.27H46.77M36.07,484.05H46.77M39.37,505.82H46.77" stroke="#3a3a3a" stroke-width="1" fill="none"/>
<text x="46.77" y="409.6" font-size="10.4" textLength="38" lengthAdjust="spacingAndGlyphs">KMM009</text>
<text x="61.97" y="420.1" font-size="10.3" textLength="57.5" lengthAdjust="spacingAndGlyphs">Velocity (m/s)</text>
<text x="46.77" y="429" font-size="10.3" text-anchor="middle">0</text>
<text x="79.4" y="429" font-size="10.3" text-anchor="middle" textLength="20.5" lengthAdjust="spacingAndGlyphs">3000</text>
<text x="112.02" y="429" font-size="10.3" text-anchor="middle" textLength="20.5" lengthAdjust="spacingAndGlyphs">6000</text>
<text x="14.17" y="440.7" font-size="10.3">0</text>
<text x="14.17" y="484.25" font-size="10.3" textLength="20" lengthAdjust="spacingAndGlyphs">2000</text>
<text x="14.17" y="527.8" font-size="10.3" textLength="20" lengthAdjust="spacingAndGlyphs">4000</text>
<text x="7.27" y="483.55" font-size="9.6" text-anchor="middle" transform="rotate(-90 7.27 483.55)" textLength="43.2" lengthAdjust="spacingAndGlyphs">Depth (m)</text>
<path d="M196.86,444.52 L207.78,444.52 L207.78,462.46 L219.68,462.46 L219.68,484.47 L221.32,484.47 L221.32,527.6" stroke="#ff3535" stroke-width="1.0" fill="none" stroke-dasharray="2.8,2.2"/>
<path d="M212.35,444.52 L228.49,444.52 L228.49,462.46 L244.63,462.46 L244.63,484.47 L248.22,484.47 L248.22,527.6" stroke="#4a4aff" stroke-width="1.0" fill="none" stroke-dasharray="2.8,2.2"/>
<path d="M187.08,441.3 L196.86,441.3 L196.86,444.52 L209.9,444.52 L209.9,462.46 L219.2,462.46 L219.2,484.47 L221.32,484.47 L221.32,527.6" stroke="#ff3535" stroke-width="1.0" fill="none"/>
<path d="M200.93,441.3 L212.35,441.3 L212.35,444.52 L229.47,444.52 L229.47,462.46 L244.63,462.46 L244.63,484.47 L248.22,484.47 L248.22,527.6" stroke="#4a4aff" stroke-width="1.0" fill="none"/>
<path d="M173.75,440.5H271.45M173.75,527.6H271.45M184.45,430V527.6M271.45,433V527.6M195.32,433V440.5M206.2,433V440.5M217.07,430V440.5M227.95,433V440.5M238.82,433V440.5M249.7,430V440.5M260.57,433V440.5M177.05,462.27H184.45M173.75,484.05H184.45M177.05,505.82H184.45" stroke="#3a3a3a" stroke-width="1" fill="none"/>
<text x="184.45" y="409.6" font-size="10.4" textLength="38" lengthAdjust="spacingAndGlyphs">KMM010</text>
<text x="199.65" y="420.1" font-size="10.3" textLength="57.5" lengthAdjust="spacingAndGlyphs">Velocity (m/s)</text>
<text x="184.45" y="429" font-size="10.3" text-anchor="middle">0</text>
<text x="217.07" y="429" font-size="10.3" text-anchor="middle" textLength="20.5" lengthAdjust="spacingAndGlyphs">3000</text>
<text x="249.7" y="429" font-size="10.3" text-anchor="middle" textLength="20.5" lengthAdjust="spacingAndGlyphs">6000</text>
<text x="151.85" y="440.7" font-size="10.3">0</text>
<text x="151.85" y="484.25" font-size="10.3" textLength="20" lengthAdjust="spacingAndGlyphs">2000</text>
<text x="151.85" y="527.8" font-size="10.3" textLength="20" lengthAdjust="spacingAndGlyphs">4000</text>
<text x="144.95" y="483.55" font-size="9.6" text-anchor="middle" transform="rotate(-90 144.95 483.55)" textLength="43.2" lengthAdjust="spacingAndGlyphs">Depth (m)</text>
<path d="M346.9,445.83 L357.17,445.83 L357.17,484.47 L358.64,484.47 L358.64,527.6" stroke="#ff3535" stroke-width="1.0" fill="none" stroke-dasharray="2.8,2.2"/>
<path d="M365.65,445.83 L381.63,445.83 L381.63,484.47 L385.22,484.47 L385.22,527.6" stroke="#4a4aff" stroke-width="1.0" fill="none" stroke-dasharray="2.8,2.2"/>
<path d="M324.08,441.3 L329.78,441.3 L329.78,441.59 L336.3,441.59 L336.3,442.89 L342.83,442.89 L342.83,444.2 L346.41,444.2 L346.41,445.34 L346.9,445.34 L346.9,462.46 L356.68,462.46 L356.68,484.47 L358.64,484.47 L358.64,527.6" stroke="#ff3535" stroke-width="1.0" fill="none"/>
<path d="M341.2,441.3 L349.35,441.3 L349.35,442.08 L357.5,442.08 L357.5,443.71 L364.02,443.71 L364.02,444.52 L365.65,444.52 L365.65,462.46 L381.63,462.46 L381.63,484.47 L385.22,484.47 L385.22,527.6" stroke="#4a4aff" stroke-width="1.0" fill="none"/>
<path d="M311.42,440.5H409.12M311.42,527.6H409.12M322.12,430V527.6M409.12,433V527.6M333,433V440.5M343.87,433V440.5M354.75,430V440.5M365.62,433V440.5M376.5,433V440.5M387.37,430V440.5M398.25,433V440.5M314.72,462.27H322.12M311.42,484.05H322.12M314.72,505.82H322.12" stroke="#3a3a3a" stroke-width="1" fill="none"/>
<text x="322.12" y="409.6" font-size="10.4" textLength="38" lengthAdjust="spacingAndGlyphs">KMM011</text>
<text x="337.32" y="420.1" font-size="10.3" textLength="57.5" lengthAdjust="spacingAndGlyphs">Velocity (m/s)</text>
<text x="322.12" y="429" font-size="10.3" text-anchor="middle">0</text>
<text x="354.75" y="429" font-size="10.3" text-anchor="middle" textLength="20.5" lengthAdjust="spacingAndGlyphs">3000</text>
<text x="387.37" y="429" font-size="10.3" text-anchor="middle" textLength="20.5" lengthAdjust="spacingAndGlyphs">6000</text>
<text x="289.52" y="440.7" font-size="10.3">0</text>
<text x="289.52" y="484.25" font-size="10.3" textLength="20" lengthAdjust="spacingAndGlyphs">2000</text>
<text x="289.52" y="527.8" font-size="10.3" textLength="20" lengthAdjust="spacingAndGlyphs">4000</text>
<text x="282.62" y="483.55" font-size="9.6" text-anchor="middle" transform="rotate(-90 282.62 483.55)" textLength="43.2" lengthAdjust="spacingAndGlyphs">Depth (m)</text>
<path d="M471.04,443.71 L480.83,443.71 L480.83,449.09 L495.17,449.09 L495.17,484.47 L496.32,484.47 L496.32,527.6" stroke="#ff3535" stroke-width="1.0" fill="none" stroke-dasharray="2.8,2.2"/>
<path d="M487.02,444.2 L502.35,444.2 L502.35,449.09 L519.63,449.09 L519.63,484.47 L523.22,484.47 L523.22,527.6" stroke="#4a4aff" stroke-width="1.0" fill="none" stroke-dasharray="2.8,2.2"/>
<path d="M462.08,441.3 L471.04,441.3 L471.04,443.71 L480.01,443.71 L480.01,451.37 L494.2,451.37 L494.2,484.47 L496.32,484.47 L496.32,527.6" stroke="#ff3535" stroke-width="1.0" fill="none"/>
<path d="M475.93,441.3 L487.02,441.3 L487.02,443.71 L495.83,443.71 L495.83,451.37 L519.63,451.37 L519.63,484.47 L523.22,484.47 L523.22,527.6" stroke="#4a4aff" stroke-width="1.0" fill="none"/>
<path d="M449.1,440.5H546.8M449.1,527.6H546.8M459.8,430V527.6M546.8,433V527.6M470.67,433V440.5M481.55,433V440.5M492.42,430V440.5M503.3,433V440.5M514.17,433V440.5M525.05,430V440.5M535.92,433V440.5M452.4,462.27H459.8M449.1,484.05H459.8M452.4,505.82H459.8" stroke="#3a3a3a" stroke-width="1" fill="none"/>
<text x="459.8" y="409.6" font-size="10.4" textLength="38" lengthAdjust="spacingAndGlyphs">KMM012</text>
<text x="475" y="420.1" font-size="10.3" textLength="57.5" lengthAdjust="spacingAndGlyphs">Velocity (m/s)</text>
<text x="459.8" y="429" font-size="10.3" text-anchor="middle">0</text>
<text x="492.42" y="429" font-size="10.3" text-anchor="middle" textLength="20.5" lengthAdjust="spacingAndGlyphs">3000</text>
<text x="525.05" y="429" font-size="10.3" text-anchor="middle" textLength="20.5" lengthAdjust="spacingAndGlyphs">6000</text>
<text x="427.19" y="440.7" font-size="10.3">0</text>
<text x="427.19" y="484.25" font-size="10.3" textLength="20" lengthAdjust="spacingAndGlyphs">2000</text>
<text x="427.19" y="527.8" font-size="10.3" textLength="20" lengthAdjust="spacingAndGlyphs">4000</text>
<text x="420.3" y="483.55" font-size="9.6" text-anchor="middle" transform="rotate(-90 420.3 483.55)" textLength="43.2" lengthAdjust="spacingAndGlyphs">Depth (m)</text>
<path d="M619.46,443.71 L632.17,443.71 L632.17,484.47 L633.64,484.47 L633.64,527.6" stroke="#ff3535" stroke-width="1.0" fill="none" stroke-dasharray="2.8,2.2"/>
<path d="M635.76,442.08 L640.65,442.08 L640.65,443.71 L657.28,443.71 L657.28,484.47 L660.22,484.47 L660.22,527.6" stroke="#4a4aff" stroke-width="1.0" fill="none" stroke-dasharray="2.8,2.2"/>
<path d="M604.78,441.3 L615.38,441.3 L615.38,442.08 L619.46,442.08 L619.46,443.22 L622.39,443.22 L622.39,447.46 L632.17,447.46 L632.17,462.46 L632.83,462.46 L632.83,484.47 L633.64,484.47 L633.64,527.6" stroke="#ff3535" stroke-width="1.0" fill="none"/>
<path d="M634.13,441.3 L634.13,442.08 L640.65,442.08 L640.65,446.97 L659.4,446.97 L659.4,462.46 L657.77,462.46 L657.77,484.47 L660.22,484.47 L660.22,527.6" stroke="#4a4aff" stroke-width="1.0" fill="none"/>
<path d="M586.77,440.5H684.47M586.77,527.6H684.47M597.47,430V527.6M684.47,433V527.6M608.35,433V440.5M619.22,433V440.5M630.1,430V440.5M640.97,433V440.5M651.85,433V440.5M662.72,430V440.5M673.6,433V440.5M590.07,462.27H597.47M586.77,484.05H597.47M590.07,505.82H597.47" stroke="#3a3a3a" stroke-width="1" fill="none"/>
<text x="597.47" y="409.6" font-size="10.4" textLength="38" lengthAdjust="spacingAndGlyphs">KMM014</text>
<text x="612.67" y="420.1" font-size="10.3" textLength="57.5" lengthAdjust="spacingAndGlyphs">Velocity (m/s)</text>
<text x="597.47" y="429" font-size="10.3" text-anchor="middle">0</text>
<text x="630.1" y="429" font-size="10.3" text-anchor="middle" textLength="20.5" lengthAdjust="spacingAndGlyphs">3000</text>
<text x="662.72" y="429" font-size="10.3" text-anchor="middle" textLength="20.5" lengthAdjust="spacingAndGlyphs">6000</text>
<text x="564.87" y="440.7" font-size="10.3">0</text>
<text x="564.87" y="484.25" font-size="10.3" textLength="20" lengthAdjust="spacingAndGlyphs">2000</text>
<text x="564.87" y="527.8" font-size="10.3" textLength="20" lengthAdjust="spacingAndGlyphs">4000</text>
<text x="557.97" y="483.55" font-size="9.6" text-anchor="middle" transform="rotate(-90 557.97 483.55)" textLength="43.2" lengthAdjust="spacingAndGlyphs">Depth (m)</text>

<rect x="63.5" y="531.6" width="93.6" height="19.5" fill="none" stroke="#3a3a3a" stroke-width="1.2"/>
<text x="70.3" y="545.8" font-size="12.4" textLength="14" lengthAdjust="spacingAndGlyphs">Vp</text>
<path d="M85.2,541.9H103.6" stroke="#0000ff" stroke-width="1.3"/>
<text x="121" y="545.8" font-size="12.4" textLength="12.5" lengthAdjust="spacingAndGlyphs">Vs</text>
<path d="M134,541.9H152.4" stroke="#ff0000" stroke-width="1.3"/>
<path d="M183,537.5H202" stroke="#4a4aff" stroke-width="1" stroke-dasharray="3.2,1.9"/>
<path d="M183,544.7H202" stroke="#ff3535" stroke-width="1" stroke-dasharray="3.2,1.9"/>
<text x="210.9" y="544.6" font-size="11.9" textLength="363" lengthAdjust="spacingAndGlyphs">Initial referenced model (J-SHIS,PS-logging and Microtremor survey)</text>

</svg>
</body></html>
